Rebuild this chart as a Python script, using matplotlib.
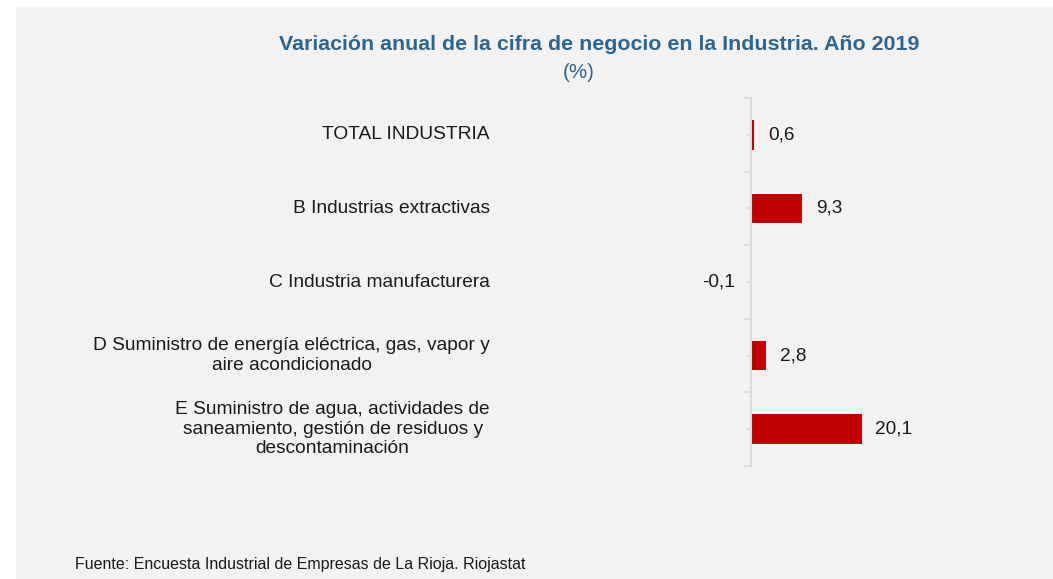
import matplotlib
import numpy as np

matplotlib.use("Agg")
import matplotlib.pyplot as plt
from matplotlib.patches import Rectangle
from matplotlib.transforms import blended_transform_factory

CATEGORIES = [
    "TOTAL INDUSTRIA",
    "B Industrias extractivas",
    "C Industria manufacturera",
    "D Suministro de energía eléctrica, gas, vapor y\naire acondicionado",
    "E Suministro de agua, actividades de\nsaneamiento, gestión de residuos y\ndescontaminación",
]
VALUES = [0.6, 9.3, -0.1, 2.8, 20.1]
VALUE_LABELS = ["0,6", "9,3", "-0,1", "2,8", "20,1"]

TITLE = "Variación anual de la cifra de negocio en la Industria. Año 2019"
SUBTITLE = "(%)"
SOURCE = "Fuente: Encuesta Industrial de Empresas de La Rioja. Riojastat"

BAR_COLOR = "#c00000"
TITLE_COLOR = "#2e6490"
PANEL_COLOR = "#f2f2f2"
AXIS_COLOR = "#d9d9d9"
TEXT_COLOR = "#1a1a1a"

W, H = 1053, 579

plt.rcParams["font.family"] = ["Liberation Sans", "DejaVu Sans"]

fig = plt.figure(figsize=(W / 100, H / 100), dpi=100)
fig.patch.set_facecolor("white")
fig.add_artist(Rectangle((16 / W, 0), 1 - 16 / W, 1 - 7 / H, transform=fig.transFigure,
                         facecolor=PANEL_COLOR, edgecolor="none", zorder=0))

# zero line at x=751 px, 5.5 px per unit
ax = fig.add_axes([740 / W, (H - 466) / H, 176 / W, 368 / H])
ax.set_facecolor("none")
ax.set_xlim(-2, 30)
ax.set_ylim(len(CATEGORIES) - 0.5, -0.5)

y = np.arange(len(CATEGORIES))
ax.barh(y, VALUES, height=0.4, color=BAR_COLOR, zorder=2)

for yi, v, lab in zip(y, VALUES, VALUE_LABELS):
    if v >= 0:
        ax.annotate(lab, (v, yi), xytext=(10, 0), textcoords="offset points",
                    ha="left", va="center", fontsize=13.7, color=TEXT_COLOR)
    else:
        ax.annotate(lab, (0, yi), xytext=(-11.5, 0), textcoords="offset points",
                    ha="right", va="center", fontsize=13.7, color=TEXT_COLOR)

trans = blended_transform_factory(fig.transFigure, ax.transData)
for yi, cat in zip(y, CATEGORIES):
    ax.text(490 / W, yi, cat, transform=trans, ha="right", va="center",
            multialignment="center", fontsize=13.8, color=TEXT_COLOR, linespacing=1.2)

for s in ["top", "right", "bottom"]:
    ax.spines[s].set_visible(False)
ax.spines["left"].set_position(("data", 0))
ax.spines["left"].set_color(AXIS_COLOR)
ax.spines["left"].set_linewidth(1.5)
ax.set_xticks([])
ax.set_yticks(np.arange(-0.5, len(CATEGORIES)), labels=[])
ax.set_yticks(y, minor=True)
ax.tick_params(axis="y", which="major", length=5, width=1.2, color=AXIS_COLOR)
ax.tick_params(axis="y", which="minor", length=3, width=1.2, color=AXIS_COLOR, labelleft=False)

fig.text(599 / W, 1 - 45 / H, TITLE, ha="center", va="center", fontsize=15.4,
         fontweight="bold", color=TITLE_COLOR)
fig.text(579 / W, 1 - 73 / H, SUBTITLE, ha="center", va="center", fontsize=14.8,
         color=TITLE_COLOR)
fig.text(75 / W, 1 - 565 / H, SOURCE, ha="left", va="center", fontsize=11.5, color=TEXT_COLOR)

fig.savefig("out.png", dpi=100, facecolor=fig.get_facecolor())
